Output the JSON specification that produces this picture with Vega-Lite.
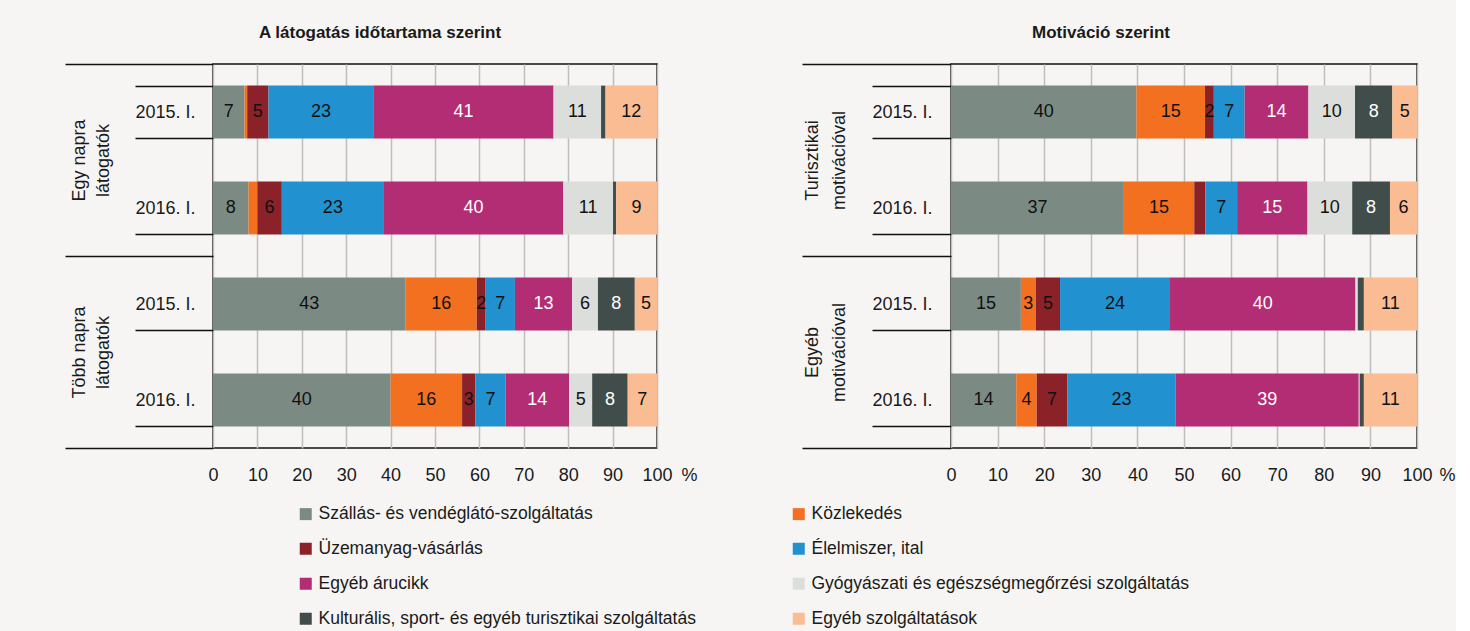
{
  "$schema": "https://vega.github.io/schema/vega-lite/v6.json",
  "background": "#F6F5F3",
  "padding": {"left": 63, "top": 23, "right": 0, "bottom": 10},
  "datasets": {
    "left": [
      {"group": "Egy napra látogatók", "key": "Egy napra látogatók|2015. I.", "category": "Szállás- és vendéglátó-szolgáltatás", "ord": 1, "value": 7.1, "label": "7"},
      {"group": "Egy napra látogatók", "key": "Egy napra látogatók|2015. I.", "category": "Közlekedés", "ord": 2, "value": 0.6, "label": ""},
      {"group": "Egy napra látogatók", "key": "Egy napra látogatók|2015. I.", "category": "Üzemanyag-vásárlás", "ord": 3, "value": 4.8, "label": "5"},
      {"group": "Egy napra látogatók", "key": "Egy napra látogatók|2015. I.", "category": "Élelmiszer, ital", "ord": 4, "value": 23.6, "label": "23"},
      {"group": "Egy napra látogatók", "key": "Egy napra látogatók|2015. I.", "category": "Egyéb árucikk", "ord": 5, "value": 40.6, "label": "41"},
      {"group": "Egy napra látogatók", "key": "Egy napra látogatók|2015. I.", "category": "Gyógyászati és egészségmegőrzési szolgáltatás", "ord": 6, "value": 10.7, "label": "11"},
      {"group": "Egy napra látogatók", "key": "Egy napra látogatók|2015. I.", "category": "Kulturális, sport- és egyéb turisztikai szolgáltatás", "ord": 7, "value": 1.0, "label": ""},
      {"group": "Egy napra látogatók", "key": "Egy napra látogatók|2015. I.", "category": "Egyéb szolgáltatások", "ord": 8, "value": 11.6, "label": "12"},
      {"group": "Egy napra látogatók", "key": "Egy napra látogatók|2016. I.", "category": "Szállás- és vendéglátó-szolgáltatás", "ord": 1, "value": 8.0, "label": "8"},
      {"group": "Egy napra látogatók", "key": "Egy napra látogatók|2016. I.", "category": "Közlekedés", "ord": 2, "value": 2.0, "label": ""},
      {"group": "Egy napra látogatók", "key": "Egy napra látogatók|2016. I.", "category": "Üzemanyag-vásárlás", "ord": 3, "value": 5.5, "label": "6"},
      {"group": "Egy napra látogatók", "key": "Egy napra látogatók|2016. I.", "category": "Élelmiszer, ital", "ord": 4, "value": 23.0, "label": "23"},
      {"group": "Egy napra látogatók", "key": "Egy napra látogatók|2016. I.", "category": "Egyéb árucikk", "ord": 5, "value": 40.4, "label": "40"},
      {"group": "Egy napra látogatók", "key": "Egy napra látogatók|2016. I.", "category": "Gyógyászati és egészségmegőrzési szolgáltatás", "ord": 6, "value": 11.2, "label": "11"},
      {"group": "Egy napra látogatók", "key": "Egy napra látogatók|2016. I.", "category": "Kulturális, sport- és egyéb turisztikai szolgáltatás", "ord": 7, "value": 0.7, "label": ""},
      {"group": "Egy napra látogatók", "key": "Egy napra látogatók|2016. I.", "category": "Egyéb szolgáltatások", "ord": 8, "value": 9.2, "label": "9"},
      {"group": "Több napra látogatók", "key": "Több napra látogatók|2015. I.", "category": "Szállás- és vendéglátó-szolgáltatás", "ord": 1, "value": 43.4, "label": "43"},
      {"group": "Több napra látogatók", "key": "Több napra látogatók|2015. I.", "category": "Közlekedés", "ord": 2, "value": 16.0, "label": "16"},
      {"group": "Több napra látogatók", "key": "Több napra látogatók|2015. I.", "category": "Üzemanyag-vásárlás", "ord": 3, "value": 2.0, "label": "2"},
      {"group": "Több napra látogatók", "key": "Több napra látogatók|2015. I.", "category": "Élelmiszer, ital", "ord": 4, "value": 6.6, "label": "7"},
      {"group": "Több napra látogatók", "key": "Több napra látogatók|2015. I.", "category": "Egyéb árucikk", "ord": 5, "value": 12.9, "label": "13"},
      {"group": "Több napra látogatók", "key": "Több napra látogatók|2015. I.", "category": "Gyógyászati és egészségmegőrzési szolgáltatás", "ord": 6, "value": 5.8, "label": "6"},
      {"group": "Több napra látogatók", "key": "Több napra látogatók|2015. I.", "category": "Kulturális, sport- és egyéb turisztikai szolgáltatás", "ord": 7, "value": 8.3, "label": "8"},
      {"group": "Több napra látogatók", "key": "Több napra látogatók|2015. I.", "category": "Egyéb szolgáltatások", "ord": 8, "value": 5.0, "label": "5"},
      {"group": "Több napra látogatók", "key": "Több napra látogatók|2016. I.", "category": "Szállás- és vendéglátó-szolgáltatás", "ord": 1, "value": 40.0, "label": "40"},
      {"group": "Több napra látogatók", "key": "Több napra látogatók|2016. I.", "category": "Közlekedés", "ord": 2, "value": 16.1, "label": "16"},
      {"group": "Több napra látogatók", "key": "Több napra látogatók|2016. I.", "category": "Üzemanyag-vásárlás", "ord": 3, "value": 3.0, "label": "3"},
      {"group": "Több napra látogatók", "key": "Több napra látogatók|2016. I.", "category": "Élelmiszer, ital", "ord": 4, "value": 6.8, "label": "7"},
      {"group": "Több napra látogatók", "key": "Több napra látogatók|2016. I.", "category": "Egyéb árucikk", "ord": 5, "value": 14.3, "label": "14"},
      {"group": "Több napra látogatók", "key": "Több napra látogatók|2016. I.", "category": "Gyógyászati és egészségmegőrzési szolgáltatás", "ord": 6, "value": 5.2, "label": "5"},
      {"group": "Több napra látogatók", "key": "Több napra látogatók|2016. I.", "category": "Kulturális, sport- és egyéb turisztikai szolgáltatás", "ord": 7, "value": 8.0, "label": "8"},
      {"group": "Több napra látogatók", "key": "Több napra látogatók|2016. I.", "category": "Egyéb szolgáltatások", "ord": 8, "value": 6.6, "label": "7"}
    ],
    "right": [
      {"group": "Turisztikai motivációval", "key": "Turisztikai motivációval|2015. I.", "category": "Szállás- és vendéglátó-szolgáltatás", "ord": 1, "value": 39.8, "label": "40"},
      {"group": "Turisztikai motivációval", "key": "Turisztikai motivációval|2015. I.", "category": "Közlekedés", "ord": 2, "value": 14.7, "label": "15"},
      {"group": "Turisztikai motivációval", "key": "Turisztikai motivációval|2015. I.", "category": "Üzemanyag-vásárlás", "ord": 3, "value": 1.9, "label": "2"},
      {"group": "Turisztikai motivációval", "key": "Turisztikai motivációval|2015. I.", "category": "Élelmiszer, ital", "ord": 4, "value": 6.6, "label": "7"},
      {"group": "Turisztikai motivációval", "key": "Turisztikai motivációval|2015. I.", "category": "Egyéb árucikk", "ord": 5, "value": 13.7, "label": "14"},
      {"group": "Turisztikai motivációval", "key": "Turisztikai motivációval|2015. I.", "category": "Gyógyászati és egészségmegőrzési szolgáltatás", "ord": 6, "value": 10.0, "label": "10"},
      {"group": "Turisztikai motivációval", "key": "Turisztikai motivációval|2015. I.", "category": "Kulturális, sport- és egyéb turisztikai szolgáltatás", "ord": 7, "value": 8.0, "label": "8"},
      {"group": "Turisztikai motivációval", "key": "Turisztikai motivációval|2015. I.", "category": "Egyéb szolgáltatások", "ord": 8, "value": 5.3, "label": "5"},
      {"group": "Turisztikai motivációval", "key": "Turisztikai motivációval|2016. I.", "category": "Szállás- és vendéglátó-szolgáltatás", "ord": 1, "value": 37.1, "label": "37"},
      {"group": "Turisztikai motivációval", "key": "Turisztikai motivációval|2016. I.", "category": "Közlekedés", "ord": 2, "value": 15.1, "label": "15"},
      {"group": "Turisztikai motivációval", "key": "Turisztikai motivációval|2016. I.", "category": "Üzemanyag-vásárlás", "ord": 3, "value": 2.4, "label": ""},
      {"group": "Turisztikai motivációval", "key": "Turisztikai motivációval|2016. I.", "category": "Élelmiszer, ital", "ord": 4, "value": 6.8, "label": "7"},
      {"group": "Turisztikai motivációval", "key": "Turisztikai motivációval|2016. I.", "category": "Egyéb árucikk", "ord": 5, "value": 15.1, "label": "15"},
      {"group": "Turisztikai motivációval", "key": "Turisztikai motivációval|2016. I.", "category": "Gyógyászati és egészségmegőrzési szolgáltatás", "ord": 6, "value": 9.6, "label": "10"},
      {"group": "Turisztikai motivációval", "key": "Turisztikai motivációval|2016. I.", "category": "Kulturális, sport- és egyéb turisztikai szolgáltatás", "ord": 7, "value": 8.1, "label": "8"},
      {"group": "Turisztikai motivációval", "key": "Turisztikai motivációval|2016. I.", "category": "Egyéb szolgáltatások", "ord": 8, "value": 5.8, "label": "6"},
      {"group": "Egyéb motivációval", "key": "Egyéb motivációval|2015. I.", "category": "Szállás- és vendéglátó-szolgáltatás", "ord": 1, "value": 15.0, "label": "15"},
      {"group": "Egyéb motivációval", "key": "Egyéb motivációval|2015. I.", "category": "Közlekedés", "ord": 2, "value": 3.2, "label": "3"},
      {"group": "Egyéb motivációval", "key": "Egyéb motivációval|2015. I.", "category": "Üzemanyag-vásárlás", "ord": 3, "value": 5.2, "label": "5"},
      {"group": "Egyéb motivációval", "key": "Egyéb motivációval|2015. I.", "category": "Élelmiszer, ital", "ord": 4, "value": 23.6, "label": "24"},
      {"group": "Egyéb motivációval", "key": "Egyéb motivációval|2015. I.", "category": "Egyéb árucikk", "ord": 5, "value": 39.8, "label": "40"},
      {"group": "Egyéb motivációval", "key": "Egyéb motivációval|2015. I.", "category": "Gyógyászati és egészségmegőrzési szolgáltatás", "ord": 6, "value": 0.5, "label": ""},
      {"group": "Egyéb motivációval", "key": "Egyéb motivációval|2015. I.", "category": "Kulturális, sport- és egyéb turisztikai szolgáltatás", "ord": 7, "value": 1.3, "label": ""},
      {"group": "Egyéb motivációval", "key": "Egyéb motivációval|2015. I.", "category": "Egyéb szolgáltatások", "ord": 8, "value": 11.4, "label": "11"},
      {"group": "Egyéb motivációval", "key": "Egyéb motivációval|2016. I.", "category": "Szállás- és vendéglátó-szolgáltatás", "ord": 1, "value": 14.0, "label": "14"},
      {"group": "Egyéb motivációval", "key": "Egyéb motivációval|2016. I.", "category": "Közlekedés", "ord": 2, "value": 4.4, "label": "4"},
      {"group": "Egyéb motivációval", "key": "Egyéb motivációval|2016. I.", "category": "Üzemanyag-vásárlás", "ord": 3, "value": 6.6, "label": "7"},
      {"group": "Egyéb motivációval", "key": "Egyéb motivációval|2016. I.", "category": "Élelmiszer, ital", "ord": 4, "value": 23.2, "label": "23"},
      {"group": "Egyéb motivációval", "key": "Egyéb motivációval|2016. I.", "category": "Egyéb árucikk", "ord": 5, "value": 39.3, "label": "39"},
      {"group": "Egyéb motivációval", "key": "Egyéb motivációval|2016. I.", "category": "Gyógyászati és egészségmegőrzési szolgáltatás", "ord": 6, "value": 0.2, "label": ""},
      {"group": "Egyéb motivációval", "key": "Egyéb motivációval|2016. I.", "category": "Kulturális, sport- és egyéb turisztikai szolgáltatás", "ord": 7, "value": 0.9, "label": ""},
      {"group": "Egyéb motivációval", "key": "Egyéb motivációval|2016. I.", "category": "Egyéb szolgáltatások", "ord": 8, "value": 11.4, "label": "11"}
    ]
  },
  "config": {
    "font": "Liberation Sans",
    "view": {"stroke": "#111111", "strokeWidth": 1.5},
    "axis": {"labelFont": "Liberation Sans", "labelFontSize": 18, "labelColor": "#1a1a1a", "titleFont": "Liberation Sans", "titleColor": "#1a1a1a"},
    "title": {"font": "Liberation Sans", "fontSize": 17, "fontWeight": "bold", "color": "#1a1a1a", "offset": 13},
    "text": {"font": "Liberation Sans"}
  },
  "spacing": 102,
  "resolve": {"scale": {"color": "shared"}, "legend": {"color": "shared"}},
  "hconcat": [
    {
      "width": 444,
      "height": 384,
      "title": {"text": "A látogatás időtartama szerint", "dx": -55},
      "data": {"name": "left"},
      "resolve": {"scale": {"y": "independent"}, "axis": {"y": "independent"}},
      "layer": [
        {
          "mark": {"type": "rule", "opacity": 0},
          "encoding": {
            "y": {"field": "group", "type": "nominal", "sort": null,
              "scale": {"paddingInner": 0, "paddingOuter": 0},
              "axis": {"orient": "left", "title": null, "domain": false, "grid": false, "tickBand": "extent", "tickSize": 148, "tickColor": "#111111", "tickWidth": 1.3,
                "labelAngle": -90, "labelAlign": "center", "labelBaseline": "middle", "labelPadding": -14, "labelLineHeight": 24,
                "labelExpr": "[substring(datum.label, 0, lastindexof(datum.label, ' ')), substring(datum.label, lastindexof(datum.label, ' ') + 1)]"}}
          }
        },
        {
          "encoding": {
            "y": {"field": "key", "type": "nominal", "sort": null,
              "scale": {"paddingInner": 0.45, "paddingOuter": 0.225},
              "axis": {"orient": "left", "title": null, "domain": false, "grid": false, "tickBand": "extent", "tickSize": 78, "tickColor": "#111111", "tickWidth": 1.3,
                "labelPadding": -60, "labelAlign": "right", "labelBaseline": "middle", "labelExpr": "split(datum.label, '|')[1]"}},
            "x": {"field": "value", "type": "quantitative", "stack": "zero",
              "scale": {"domain": [0, 100], "nice": false},
              "axis": {"values": [0, 10, 20, 30, 40, 50, 60, 70, 80, 90, 100], "grid": true, "gridColor": "#BFBFBF", "gridWidth": 1.5, "ticks": false, "domain": false, "labelPadding": 18, "labelFlush": false,
                "title": "%", "titleAngle": 0, "titleAlign": "left", "titleBaseline": "middle", "titleX": 468, "titleY": 27, "titleFontWeight": "normal", "titleFontSize": 18}},
            "order": {"field": "ord", "type": "quantitative"}
          },
          "layer": [
            {
              "mark": {"type": "bar"},
              "encoding": {
                "color": {"field": "category", "type": "nominal",
                  "scale": {"domain": ["Szállás- és vendéglátó-szolgáltatás", "Közlekedés", "Üzemanyag-vásárlás", "Élelmiszer, ital", "Egyéb árucikk", "Gyógyászati és egészségmegőrzési szolgáltatás", "Kulturális, sport- és egyéb turisztikai szolgáltatás", "Egyéb szolgáltatások"],
                    "range": ["#7B8B84", "#F37021", "#8C2229", "#2291D0", "#B22D74", "#DCDEDB", "#414D4A", "#F9BC93"]},
                  "legend": {"orient": "none", "legendX": 84, "legendY": 441, "columns": 2, "direction": "horizontal", "title": null, "symbolType": "square", "symbolSize": 144, "symbolStrokeWidth": 0, "labelFontSize": 17.5, "labelColor": "#1a1a1a", "labelFont": "Liberation Sans", "labelLimit": 600, "columnPadding": 94, "rowPadding": 16, "labelOffset": 4, "padding": 0}}
              }
            },
            {
              "mark": {"type": "text", "fontSize": 18, "baseline": "middle", "align": "center"},
              "encoding": {
                "x": {"field": "value", "type": "quantitative", "stack": "zero", "bandPosition": 0.5},
                "text": {"field": "label", "type": "nominal"},
                "color": {"condition": {"test": "datum.category === 'Egyéb árucikk' || datum.category === 'Kulturális, sport- és egyéb turisztikai szolgáltatás'", "value": "#FFFFFF"}, "value": "#111111"}
              }
            }
          ]
        }
      ]
    },
    {
      "width": 466,
      "height": 384,
      "title": {"text": "Motiváció szerint", "dx": -83},
      "data": {"name": "right"},
      "resolve": {"scale": {"y": "independent"}, "axis": {"y": "independent"}},
      "layer": [
        {
          "mark": {"type": "rule", "opacity": 0},
          "encoding": {
            "y": {"field": "group", "type": "nominal", "sort": null,
              "scale": {"paddingInner": 0, "paddingOuter": 0},
              "axis": {"orient": "left", "title": null, "domain": false, "grid": false, "tickBand": "extent", "tickSize": 149, "tickColor": "#111111", "tickWidth": 1.3,
                "labelAngle": -90, "labelAlign": "center", "labelBaseline": "middle", "labelPadding": -10, "labelLineHeight": 27,
                "labelExpr": "[substring(datum.label, 0, lastindexof(datum.label, ' ')), substring(datum.label, lastindexof(datum.label, ' ') + 1)]"}}
          }
        },
        {
          "encoding": {
            "y": {"field": "key", "type": "nominal", "sort": null,
              "scale": {"paddingInner": 0.45, "paddingOuter": 0.225},
              "axis": {"orient": "left", "title": null, "domain": false, "grid": false, "tickBand": "extent", "tickSize": 79, "tickColor": "#111111", "tickWidth": 1.3,
                "labelPadding": -60, "labelAlign": "right", "labelBaseline": "middle", "labelExpr": "split(datum.label, '|')[1]"}},
            "x": {"field": "value", "type": "quantitative", "stack": "zero",
              "scale": {"domain": [0, 100], "nice": false},
              "axis": {"values": [0, 10, 20, 30, 40, 50, 60, 70, 80, 90, 100], "grid": true, "gridColor": "#BFBFBF", "gridWidth": 1.5, "ticks": false, "domain": false, "labelPadding": 18, "labelFlush": false,
                "title": "%", "titleAngle": 0, "titleAlign": "left", "titleBaseline": "middle", "titleX": 488, "titleY": 27, "titleFontWeight": "normal", "titleFontSize": 18}},
            "order": {"field": "ord", "type": "quantitative"}
          },
          "layer": [
            {
              "mark": {"type": "bar"},
              "encoding": {
                "color": {"field": "category", "type": "nominal"}
              }
            },
            {
              "mark": {"type": "text", "fontSize": 18, "baseline": "middle", "align": "center"},
              "encoding": {
                "x": {"field": "value", "type": "quantitative", "stack": "zero", "bandPosition": 0.5},
                "text": {"field": "label", "type": "nominal"},
                "color": {"condition": {"test": "datum.category === 'Egyéb árucikk' || datum.category === 'Kulturális, sport- és egyéb turisztikai szolgáltatás'", "value": "#FFFFFF"}, "value": "#111111"}
              }
            }
          ]
        }
      ]
    }
  ]
}
